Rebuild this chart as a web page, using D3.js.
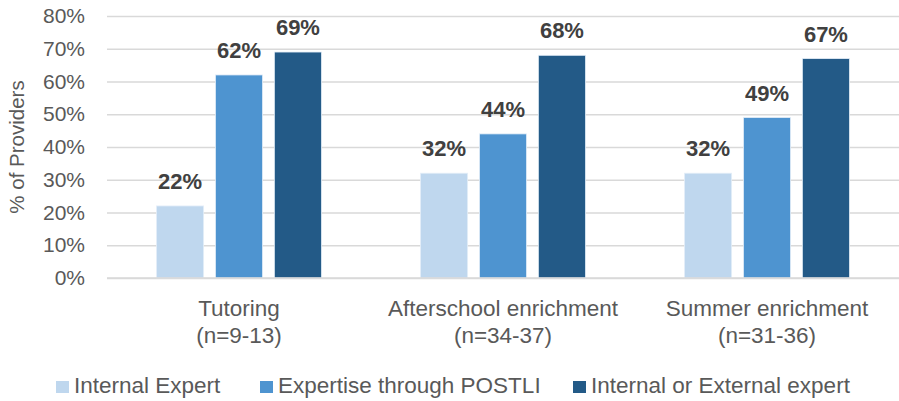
<!DOCTYPE html>
<html>
<head>
<meta charset="utf-8">
<script src="https://cdn.jsdelivr.net/npm/d3@7"></script>
<style>
  body { margin: 0; background: #fff; }
  text { font-family: "Liberation Sans", Arial, sans-serif; }
</style>
</head>
<body>
<div class="barChart"></div>
<script>
// categories, two label lines each
let categories = ["Tutoring", "Afterschool enrichment", "Summer enrichment"]
let categoryN = ["(n=9-13)", "(n=34-37)", "(n=31-36)"]
let seriesNames = ["Internal Expert", "Expertise through POSTLI", "Internal or External expert"]
let internalExpert = [22, 32, 32]
let postli = [62, 44, 49]
let internalOrExternal = [69, 68, 67]
let yTicks = [0, 10, 20, 30, 40, 50, 60, 70, 80]

let colors = ["#BFD7EE", "#4E94D0", "#235A87"]
let seriesValues = [internalExpert, postli, internalOrExternal]

let width = 899, height = 401
let plotLeft = 107, plotRight = 899, plotTop = 16, plotBottom = 278

let svg = d3.select(".barChart")
            .append("svg")
            .attr("width", width)
            .attr("height", height)

let y_scale = d3.scaleLinear()
                .domain([0, 80])
                .range([plotBottom, plotTop])

let x0 = d3.scaleBand()
           .domain(categories)
           .range([plotLeft, plotRight])
           .padding(0)

let x1 = d3.scaleBand()
           .domain(seriesNames)
           .range([49.5, x0.bandwidth() - 49.5])
           .paddingInner(0.2)
           .paddingOuter(0)

// gridlines
let y_grid = d3.axisLeft(y_scale)
               .tickValues(yTicks)
               .tickSize(-(plotRight - plotLeft))
               .tickFormat("")
let grid = svg.append("g")
              .attr("transform", "translate(" + plotLeft + ",0)")
              .call(y_grid)
grid.select(".domain").remove()
grid.selectAll("line").attr("stroke", "#D9D9D9").attr("stroke-width", 1.5)

// y labels
let y_axis = d3.axisLeft(y_scale)
               .tickValues(yTicks)
               .tickSize(0)
               .tickPadding(22)
               .tickFormat(d => d + "%")
let ya = svg.append("g")
            .attr("transform", "translate(" + plotLeft + ",0)")
            .call(y_axis)
ya.select(".domain").remove()
ya.selectAll("text")
  .attr("font-size", 21)
  .attr("fill", "#595959")
  .attr("font-family", "Liberation Sans, Arial, sans-serif")

svg.append("text")
   .attr("transform", "translate(24," + ((plotTop + plotBottom) / 2) + ") rotate(-90)")
   .attr("text-anchor", "middle")
   .attr("font-size", 20.5)
   .attr("fill", "#595959")
   .text("% of Providers")

// bars
seriesNames.forEach((s, si) => {
    let g = svg.append("g").attr("class", "series")
    g.selectAll("rect")
     .data(seriesValues[si])
     .enter()
     .append("rect")
     .attr("x", (d, i) => x0(categories[i]) + x1(s))
     .attr("y", d => y_scale(d))
     .attr("width", x1.bandwidth())
     .attr("height", d => y_scale(0) - y_scale(d))
     .attr("fill", colors[si])
     .attr("stroke", "#E4EEF8")
     .attr("stroke-width", 0.8)
    g.selectAll("text")
     .data(seriesValues[si])
     .enter()
     .append("text")
     .attr("x", (d, i) => x0(categories[i]) + x1(s) + x1.bandwidth() / 2)
     .attr("y", d => y_scale(d) - 17)
     .attr("text-anchor", "middle")
     .attr("font-size", 22)
     .attr("font-weight", "bold")
     .attr("fill", "#404040")
     .text(d => d + "%")
})

// baseline
svg.append("line")
   .attr("x1", plotLeft).attr("x2", plotRight)
   .attr("y1", y_scale(0)).attr("y2", y_scale(0))
   .attr("stroke", "#D9D9D9")
   .attr("stroke-width", 1.5)

// category labels
let cat = svg.append("g")
categories.forEach((c, i) => {
    let cx = x0(c) + x0.bandwidth() / 2
    cat.append("text")
       .attr("x", cx).attr("y", 316)
       .attr("text-anchor", "middle")
       .attr("font-size", 22.5)
       .attr("fill", "#595959")
       .text(c)
    cat.append("text")
       .attr("x", cx).attr("y", 343)
       .attr("text-anchor", "middle")
       .attr("font-size", 22.5)
       .attr("fill", "#595959")
       .text(categoryN[i])
})

// legend
let legendX = [56, 260, 573]
let legend = svg.append("g")
seriesNames.forEach((s, i) => {
    legend.append("rect")
          .attr("x", legendX[i]).attr("y", 381)
          .attr("width", 13).attr("height", 12)
          .attr("fill", colors[i])
    legend.append("text")
          .attr("x", legendX[i] + 18).attr("y", 393)
          .attr("font-size", 22.5)
          .attr("fill", "#595959")
          .text(s)
})
</script>
</body>
</html>
